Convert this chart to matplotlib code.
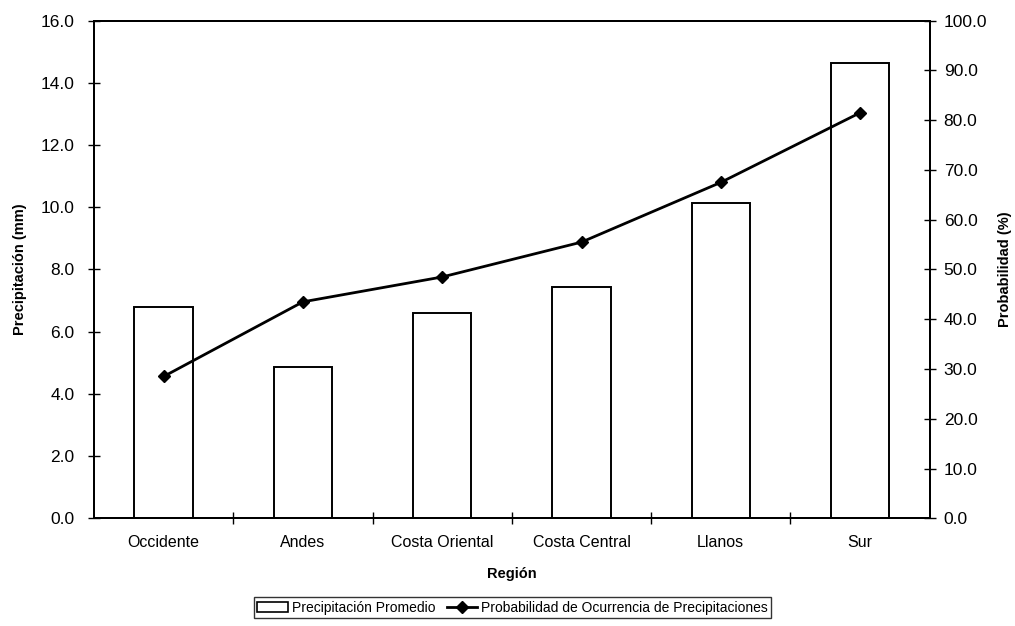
import matplotlib
matplotlib.use("Agg")
import matplotlib.pyplot as plt
from matplotlib.patches import Patch
from matplotlib.lines import Line2D

regions = ["Occidente", "Andes", "Costa Oriental", "Costa Central", "Llanos", "Sur"]
precip_mm = [6.8, 4.85, 6.6, 7.45, 10.15, 14.65]
prob_pct = [28.5, 43.5, 48.5, 55.5, 67.5, 81.5]
left_ticks = [0, 2, 4, 6, 8, 10, 12, 14, 16]
right_ticks = [0, 10, 20, 30, 40, 50, 60, 70, 80, 90, 100]

plt.rcParams['font.family'] = ['Liberation Sans', 'DejaVu Sans']

fig = plt.figure(figsize=(10.15, 6.26), dpi=100)
ax = fig.add_axes([0.0926, 0.172, 0.8234, 0.795])
ax2 = ax.twinx()

x = list(range(len(regions)))
ax.bar(x, precip_mm, width=0.42, color="white", edgecolor="black", linewidth=1.4, zorder=2)
ax.set_xlim(-0.5, len(regions) - 0.5)
ax.set_ylim(0, 16)
ax.set_yticks(left_ticks)
ax.set_yticklabels([f"{v:.1f}" for v in left_ticks])
ax.set_xticks([i + 0.5 for i in x[:-1]])
ax.set_xticklabels([])
ax.set_xticks(x, minor=True)
ax.set_xticklabels(regions, minor=True)
ax.tick_params(axis='x', which='minor', length=0, pad=12, labelsize=11.5)
ax.tick_params(axis='x', which='major', direction='inout', length=8, width=1)
ax.tick_params(axis='y', direction='inout', length=8, width=1, labelsize=12.5, pad=10)
ax.set_ylabel("Precipitación (mm)", fontsize=10.5, fontweight='bold', labelpad=10)
ax.set_xlabel("Región", fontsize=10.5, fontweight='bold', labelpad=12)

ax2.plot(x, prob_pct, color="black", linewidth=2, marker='D', markersize=6.5, zorder=3)
ax2.set_ylim(0, 100)
ax2.set_yticks(right_ticks)
ax2.set_yticklabels([f"{v:.1f}" for v in right_ticks])
ax2.tick_params(axis='y', direction='inout', length=8, width=1, labelsize=12.5, pad=6)
ax2.set_ylabel("Probabilidad (%)", fontsize=10.5, fontweight='bold', rotation=90, labelpad=8)

for a in (ax, ax2):
    for s in a.spines.values():
        s.set_linewidth(1.4)
        s.set_color("black")

handles = [Patch(facecolor="white", edgecolor="black", linewidth=1.2),
           Line2D([0], [0], color="black", linewidth=2, marker='D', markersize=6)]
labels = ["Precipitación Promedio", "Probabilidad de Ocurrencia de Precipitaciones"]
leg = fig.legend(handles, labels, loc='center', bbox_to_anchor=(0.505, 0.029), ncol=2,
                 frameon=True, fancybox=False, edgecolor="black", fontsize=10,
                 handlelength=2.2, handletextpad=0.3, columnspacing=0.8,
                 borderpad=0.25, borderaxespad=0)
leg.get_frame().set_linewidth(1.0)

fig.savefig("out.png", dpi=100)
